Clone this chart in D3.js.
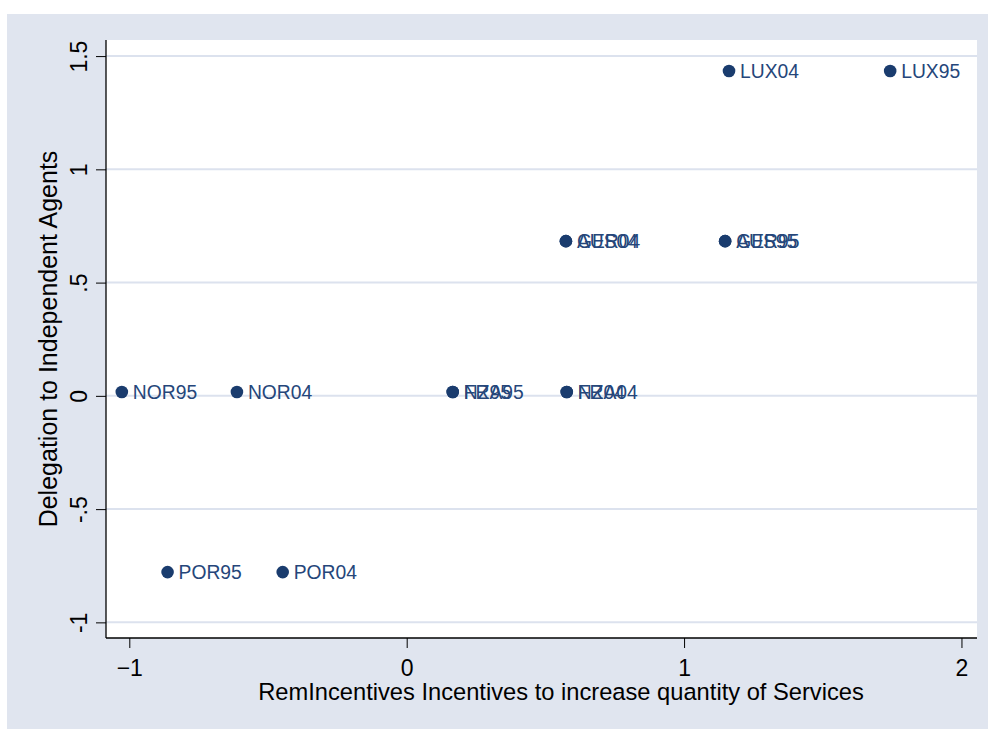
<!DOCTYPE html>
<html>
<head>
<meta charset="utf-8">
<script src="https://cdn.jsdelivr.net/npm/d3@7"></script>
<style>
  body { margin: 0; background: #fff; }
  text { font-family: "Liberation Sans", Arial, sans-serif; }
</style>
</head>
<body>
<script>
// values
const labels  = ["NOR95", "NOR04", "POR95", "POR04", "FRA95", "NZ95", "FRA04", "NZ04",
                 "AUS04", "GER04", "AUS95", "GER95", "LUX04", "LUX95"];
const remInc  = [-1.027, -0.612, -0.862, -0.447, 0.166, 0.166, 0.577, 0.577,
                 0.574, 0.574, 1.148, 1.148, 1.162, 1.743];
const delegation = [0.017, 0.017, -0.778, -0.778, 0.017, 0.017, 0.017, 0.017,
                    0.683, 0.683, 0.683, 0.683, 1.434, 1.434];
const xTicks = [-1, 0, 1, 2];
const yTicks = [-1, -0.5, 0, 0.5, 1, 1.5];
const yTickLabels = ["-1", "-.5", "0", ".5", "1", "1.5"];

const W = 988, H = 729;
const plot = {left: 106, top: 40, right: 977, bottom: 638};
const navy = "#1a3c6e";
const bg = "#e0e5ef";

let svg, x, y;

setupSvg();
setupScales();
appendGrid();
appendAxes();
appendPoints();
appendTitles();

function setupSvg() {
  svg = d3.select("body").append("svg")
    .attr("width", W)
    .attr("height", H);
  svg.append("rect")
    .attr("x", 7).attr("y", 14)
    .attr("width", W - 7).attr("height", H - 14)
    .attr("fill", bg);
  svg.append("rect")
    .attr("x", plot.left).attr("y", plot.top)
    .attr("width", plot.right - plot.left)
    .attr("height", plot.bottom - plot.top)
    .attr("fill", "#fff");
}

function setupScales() {
  x = d3.scaleLinear().domain([-1.084, 2.056]).range([plot.left, plot.right]);
  y = d3.scaleLinear().domain([-1.069, 1.571]).range([plot.bottom, plot.top]);
}

function appendGrid() {
  svg.append("g").selectAll("line")
    .data(yTicks)
    .enter().append("line")
    .attr("x1", plot.left).attr("x2", plot.right)
    .attr("y1", d => y(d)).attr("y2", d => y(d))
    .attr("stroke", "#dce2ee")
    .attr("stroke-width", 2);
}

function appendAxes() {
  const xAxis = svg.append("g")
    .attr("transform", `translate(0, ${plot.bottom})`)
    .call(d3.axisBottom(x).tickValues(xTicks).tickSize(10).tickFormat(d3.format("d")));
  const yAxis = svg.append("g")
    .attr("transform", `translate(${plot.left}, 0)`)
    .call(d3.axisLeft(y).tickValues(yTicks).tickSize(10).tickFormat((d, i) => yTickLabels[i]));

  [xAxis, yAxis].forEach(g => {
    g.select(".domain").attr("stroke", "#000").attr("stroke-width", 1.3);
    g.selectAll(".tick line").attr("stroke", "#000").attr("stroke-width", 1);
    g.selectAll("text").attr("fill", "#000").style("font-size", "23px")
      .style("font-family", "'Liberation Sans', Arial, sans-serif");
  });
  xAxis.select(".domain").attr("d", `M${plot.left},0H${plot.right}`);
  yAxis.select(".domain").attr("d", `M0,${plot.top}V${plot.bottom}`);

  xAxis.selectAll(".tick text").attr("y", 38).attr("dy", 0);
  yAxis.selectAll(".tick text")
    .attr("x", 0).attr("dy", 0)
    .attr("text-anchor", "middle")
    .attr("transform", "translate(-19,0) rotate(-90)");
}

function appendPoints() {
  const pts = svg.append("g").selectAll("g")
    .data(labels)
    .enter().append("g")
    .attr("transform", (d, i) => `translate(${x(remInc[i])}, ${y(delegation[i])})`);
  pts.append("circle")
    .attr("r", 6.3)
    .attr("fill", navy);
  pts.append("text")
    .attr("x", 11)
    .attr("dy", "0.36em")
    .attr("fill", "#25467a")
    .style("font-size", "19.3px")
    .text(d => d);
}

function appendTitles() {
  svg.append("text")
    .attr("x", 561).attr("y", 700)
    .attr("text-anchor", "middle")
    .style("font-size", "23.7px")
    .text("RemIncentives Incentives to increase quantity of Services");
  svg.append("text")
    .attr("transform", `translate(57, ${(plot.top + plot.bottom) / 2}) rotate(-90)`)
    .attr("text-anchor", "middle")
    .style("font-size", "25px")
    .text("Delegation to Independent Agents");
}
</script>
</body>
</html>
